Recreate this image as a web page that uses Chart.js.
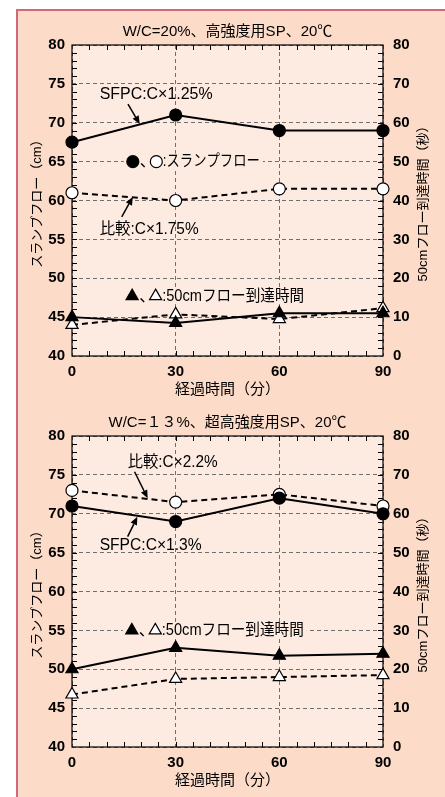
<!DOCTYPE html>
<html>
<head>
<meta charset="utf-8">
<script src="https://cdn.jsdelivr.net/npm/chart.js@4/dist/chart.umd.min.js"></script>
<style>
  html, body { margin: 0; padding: 0; background: #fff; }
  body { width: 445px; height: 797px; position: relative; overflow: hidden; }
  #panel {
    position: absolute; left: 16px; top: 9px; right: 0; bottom: 0;
    background: #fcdcc8;
    border-left: 2px solid #d4687a; border-top: 2px solid #d4687a;
  }
  canvas { position: absolute; left: 0; }
  #flow20 { top: 0; }
  #flow13 { top: 391px; }
</style>
</head>
<body>
<div id="panel"></div>
<canvas id="flow20" width="445" height="400"></canvas>
<canvas id="flow13" width="445" height="400"></canvas>
<script>
// Elapsed time (min) and axis tick values
const minutes = [0, 30, 60, 90];
const timeTicks = [0, 30, 60, 90];
const flowTicks = [40, 45, 50, 55, 60, 65, 70, 75, 80];
const reachTicks = [0, 10, 20, 30, 40, 50, 60, 70, 80];

// W/C=20%, high-strength SP: slump flow (cm) and 50 cm flow time (s)
const flowSfpc20 = [67.5, 71, 69, 69];
const flowRef20 = [61, 60, 61.5, 61.5];
const reachSfpc20 = [10, 8.5, 11, 11];
const reachRef20 = [8, 10.7, 9.5, 12.3];

// W/C=13%, ultra-high-strength SP
const flowSfpc13 = [71, 69, 72, 70];
const flowRef13 = [73, 71.5, 72.5, 71];
const reachSfpc13 = [20, 25.5, 23.5, 24];
const reachRef13 = [13.5, 17.5, 18, 18.5];

const FONT = '"Liberation Sans", "Noto Sans CJK JP", sans-serif';
const PLOT_BG = '#fdebe2';
const GRID = '#6e6e6e';

Chart.defaults.font.family = FONT;
Chart.defaults.color = '#000';

function series(values, axis, style, fill, dash, order) {
  return {
    data: values.map((v, i) => ({ x: minutes[i], y: v })),
    yAxisID: axis,
    borderColor: '#000',
    borderWidth: 2,
    borderDash: dash,
    pointStyle: style,
    pointRadius: style === 'circle' ? 6 : 7,
    pointBackgroundColor: fill,
    pointBorderColor: '#000',
    pointBorderWidth: 1.2,
    tension: 0,
    clip: false,
    order: order
  };
}

function drawMark(ctx, style, x, y, fill) {
  ctx.save();
  ctx.beginPath();
  if (style === 'circle') {
    ctx.arc(x, y, 6, 0, Math.PI * 2);
  } else {
    const r = 7;
    for (let k = 0; k < 3; k++) {
      const a = k * 2 * Math.PI / 3;
      const px = x + Math.sin(a) * r, py = y - Math.cos(a) * r;
      if (k === 0) ctx.moveTo(px, py); else ctx.lineTo(px, py);
    }
    ctx.closePath();
  }
  ctx.fillStyle = fill;
  ctx.fill();
  ctx.lineWidth = 1.2;
  ctx.strokeStyle = '#000';
  ctx.stroke();
  ctx.restore();
}

function drawArrow(ctx, x1, y1, x2, y2) {
  const ang = Math.atan2(y2 - y1, x2 - x1);
  const head = 8, half = 3.5;
  const bx = x2 - Math.cos(ang) * head, by = y2 - Math.sin(ang) * head;
  ctx.save();
  ctx.strokeStyle = '#000';
  ctx.fillStyle = '#000';
  ctx.lineWidth = 1.5;
  ctx.beginPath();
  ctx.moveTo(x1, y1);
  ctx.lineTo(bx, by);
  ctx.stroke();
  ctx.beginPath();
  ctx.moveTo(x2, y2);
  ctx.lineTo(bx + Math.sin(ang) * half, by - Math.cos(ang) * half);
  ctx.lineTo(bx - Math.sin(ang) * half, by + Math.cos(ang) * half);
  ctx.closePath();
  ctx.fill();
  ctx.restore();
}

// Plot background, frame with inward minor ticks, callouts and the right-hand axis title
function makeDecor(spec) {
  return {
    id: 'plotDecor',
    beforeDraw(chart) {
      const { ctx, chartArea: a } = chart;
      ctx.save();
      ctx.fillStyle = PLOT_BG;
      ctx.fillRect(a.left, a.top, a.right - a.left, a.bottom - a.top);
      ctx.restore();
    },
    beforeDatasetsDraw(chart) {
      const { ctx, chartArea: a, scales } = chart;
      ctx.save();
      ctx.strokeStyle = '#000';
      ctx.lineWidth = 1.2;
      ctx.strokeRect(a.left, a.top, a.right - a.left, a.bottom - a.top);
      ctx.lineWidth = 1;
      ctx.beginPath();
      const t = 5;
      for (let v = 41; v < 80; v++) {
        const y = Math.round(scales.yFlow.getPixelForValue(v)) + 0.5;
        ctx.moveTo(a.left, y); ctx.lineTo(a.left + t, y);
        ctx.moveTo(a.right, y); ctx.lineTo(a.right - t, y);
      }
      for (let m = 5; m < 90; m += 5) {
        const x = Math.round(scales.x.getPixelForValue(m)) + 0.5;
        ctx.moveTo(x, a.bottom); ctx.lineTo(x, a.bottom - t);
        ctx.moveTo(x, a.top); ctx.lineTo(x, a.top + t);
      }
      ctx.stroke();
      ctx.restore();
    },
    afterDatasetsDraw(chart) {
      const { ctx, chartArea: a, scales } = chart;
      const px = (m) => scales.x.getPixelForValue(m);
      const py = (v) => scales.yFlow.getPixelForValue(v);
      ctx.save();
      ctx.font = '16px ' + FONT;
      ctx.fillStyle = '#000';
      ctx.textBaseline = 'middle';
      ctx.textAlign = 'left';
      for (const n of spec.notes) {
        if (n.kind === 'text') {
          ctx.fillText(n.text, px(n.x), py(n.y), n.w);
        } else if (n.kind === 'arrow') {
          drawArrow(ctx, px(n.from[0]), py(n.from[1]), px(n.to[0]), py(n.to[1]));
        } else if (n.kind === 'key') {
          const cx = px(n.x), cy = py(n.y);
          ctx.fillStyle = PLOT_BG;
          ctx.fillRect(cx - 9, cy - 8, 30 + n.w + 12, 16);
          drawMark(ctx, n.mark, cx, cy, '#000');
          ctx.fillStyle = '#000';
          ctx.fillText('、', cx + 7, cy);
          drawMark(ctx, n.mark, cx + 23.5, cy, '#fff');
          ctx.fillStyle = '#000';
          ctx.fillText(n.text, cx + 30, cy, n.w);
        }
      }
      // right-hand axis title, read bottom to top
      const r = scales.yTime;
      ctx.translate(r.left + 40, (a.top + a.bottom) / 2);
      ctx.rotate(-Math.PI / 2);
      ctx.textAlign = 'center';
      ctx.font = '13px ' + FONT;
      ctx.fillText(spec.rightTitle, 0, 0);
      ctx.restore();
    }
  };
}

function buildChart(id, spec) {
  const tickFont = { size: 15, weight: 'bold' };
  const dashedGrid = { color: GRID, lineWidth: 1, drawTicks: false };
  return new Chart(document.getElementById(id), {
    type: 'line',
    data: {
      datasets: [
        series(spec.flowSfpc, 'yFlow', 'circle', '#000', [], 1),
        series(spec.flowRef, 'yFlow', 'circle', '#fff', [6, 4], 2),
        series(spec.reachSfpc, 'yTime', 'triangle', '#000', [], 3),
        series(spec.reachRef, 'yTime', 'triangle', '#fff', [6, 4], 4)
      ]
    },
    options: {
      responsive: false,
      animation: false,
      events: [],
      layout: { padding: 0 },
      plugins: {
        legend: { display: false },
        tooltip: { enabled: false },
        title: {
          display: true, text: spec.title, fullSize: false,
          font: { size: 15, weight: 'normal' }, color: '#000',
          padding: { top: 23, bottom: 4 }
        }
      },
      scales: {
        x: {
          type: 'linear', position: 'bottom', min: 0, max: 90,
          afterBuildTicks: (s) => { s.ticks = timeTicks.map(v => ({ value: v })); },
          ticks: { padding: 7, font: tickFont, color: '#000', maxRotation: 0, autoSkip: false },
          grid: dashedGrid,
          border: { display: false, dash: [4, 3] },
          title: { display: true, text: '経過時間（分）', font: { size: 15 }, color: '#000', padding: { top: 0, bottom: 1 } },
          afterFit: (s) => { s.height = 44; }
        },
        yFlow: {
          type: 'linear', position: 'left', min: 40, max: 80,
          afterBuildTicks: (s) => { s.ticks = flowTicks.map(v => ({ value: v })); },
          ticks: { padding: 7, font: tickFont, color: '#000', autoSkip: false },
          grid: dashedGrid,
          border: { display: false, dash: [4, 3] },
          title: { display: true, text: 'スランプフロー（cm）', font: { size: 13 }, color: '#000', padding: { top: 30, bottom: 0 } },
          afterFit: (s) => { s.width = 72; }
        },
        yTime: {
          type: 'linear', position: 'right', min: 0, max: 80,
          afterBuildTicks: (s) => { s.ticks = reachTicks.map(v => ({ value: v })); },
          ticks: { padding: 10, font: tickFont, color: '#000', autoSkip: false },
          grid: { drawOnChartArea: false, drawTicks: false },
          border: { display: false },
          afterFit: (s) => { s.width = 62; }
        }
      }
    },
    plugins: [makeDecor(spec)]
  });
}

buildChart('flow20', {
  title: 'W/C=20%、高強度用SP、20℃',
  rightTitle: '50cmフロー到達時間（秒）',
  flowSfpc: flowSfpc20, flowRef: flowRef20,
  reachSfpc: reachSfpc20, reachRef: reachRef20,
  notes: [
    { kind: 'text', x: 8.0, y: 73.6, text: 'SFPC:C×1.25%', w: 113 },
    { kind: 'arrow', from: [16.2, 72.4], to: [19.6, 69.85] },
    { kind: 'key', x: 17.6, y: 65, mark: 'circle', text: ':スランプフロー', w: 97 },
    { kind: 'text', x: 8.0, y: 56.3, text: '比較:C×1.75%', w: 99 },
    { kind: 'arrow', from: [14.4, 57.9], to: [17.6, 60.45] },
    { kind: 'key', x: 17.4, y: 47.7, mark: 'triangle', text: ':50cmフロー到達時間', w: 142 }
  ]
});

buildChart('flow13', {
  title: 'W/C=１３%、超高強度用SP、20℃',
  rightTitle: '50cmフロー到達時間（秒）',
  flowSfpc: flowSfpc13, flowRef: flowRef13,
  reachSfpc: reachSfpc13, reachRef: reachRef13,
  notes: [
    { kind: 'text', x: 16.1, y: 76.6, text: '比較:C×2.2%', w: 90 },
    { kind: 'arrow', from: [18.1, 75.4], to: [21.9, 72.0] },
    { kind: 'text', x: 8.0, y: 65.9, text: 'SFPC:C×1.3%', w: 102 },
    { kind: 'arrow', from: [16.1, 67.05], to: [18.9, 69.6] },
    { kind: 'key', x: 17.3, y: 55, mark: 'triangle', text: ':50cmフロー到達時間', w: 142 }
  ]
});
</script>
</body>
</html>
